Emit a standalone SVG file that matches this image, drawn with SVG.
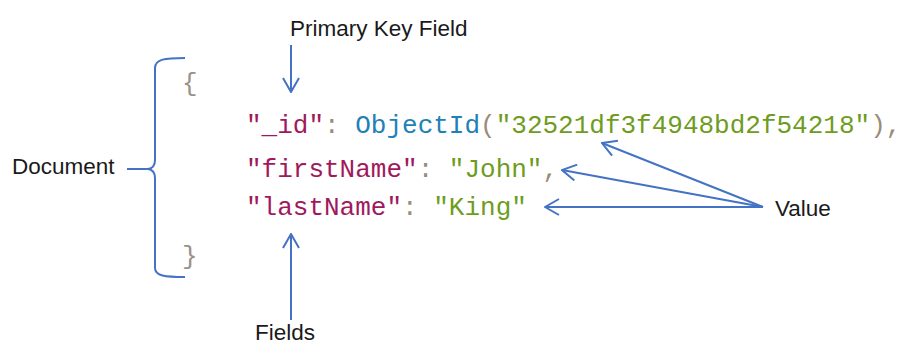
<svg xmlns="http://www.w3.org/2000/svg" width="912" height="347" viewBox="0 0 912 347">
  <defs>
    <style>
      .label { font-family: "Liberation Sans", Arial, sans-serif; font-size: 22.5px; fill: #1a1a1a; }
      .code { font-family: "Liberation Mono", "DejaVu Sans Mono", monospace; font-size: 26px; }
      .key { fill: #a0195c; }
      .punc { fill: #9a8a78; }
      .fn { fill: #2180b8; }
      .str { fill: #6e9c1e; }
      .brace { fill: #9a9088; }
      .conn { stroke: #4472c4; stroke-width: 2; fill: none; }
    </style>
    <marker id="arrow" viewBox="0 0 16 18" refX="15" refY="9" markerWidth="16" markerHeight="18" markerUnits="userSpaceOnUse" orient="auto">
      <path d="M1,1 L15,9 L1,17" fill="none" stroke="#4472c4" stroke-width="2"/>
    </marker>
  </defs>
  <rect width="912" height="347" fill="#ffffff"/>

  <g id="code">
    <text class="code brace" x="182" y="91">{</text>
    <text class="code" x="246" y="133" xml:space="preserve"><tspan class="key">"_id"</tspan><tspan class="punc">: </tspan><tspan class="fn">ObjectId</tspan><tspan class="punc">(</tspan><tspan class="str">"32521df3f4948bd2f54218"</tspan><tspan class="punc">),</tspan></text>
    <text class="code" x="246" y="177" xml:space="preserve"><tspan class="key">"firstName"</tspan><tspan class="punc">: </tspan><tspan class="str">"John"</tspan><tspan class="punc">,</tspan></text>
    <text class="code" x="246" y="215" xml:space="preserve"><tspan class="key">"lastName"</tspan><tspan class="punc">: </tspan><tspan class="str">"King"</tspan></text>
    <text class="code brace" x="182" y="264">}</text>
  </g>

  <g id="bracket">
    <path class="conn" d="M185,58 C165,58 155,59 155,68 L155,160 Q155,168 148,169 Q155,170 155,178 L155,268 C155,276 165,277 185,277"/>
  </g>

  <g id="label-primary-key">
    <text class="label" x="290" y="36">Primary Key Field</text>
  </g>
  <g id="label-document">
    <text class="label" x="12" y="174">Document</text>
  </g>
  <g id="label-value">
    <text class="label" x="775" y="216">Value</text>
  </g>
  <g id="label-fields">
    <text class="label" x="255" y="340">Fields</text>
  </g>

  <g id="connectors">
    <line class="conn" x1="127" y1="169" x2="148" y2="169"/>
    <line class="conn" x1="291" y1="45" x2="291" y2="92" marker-end="url(#arrow)"/>
    <line class="conn" x1="291" y1="320" x2="291" y2="234" marker-end="url(#arrow)"/>
    <line class="conn" x1="763" y1="207" x2="602" y2="143" marker-end="url(#arrow)"/>
    <line class="conn" x1="763" y1="207" x2="562" y2="170" marker-end="url(#arrow)"/>
    <line class="conn" x1="763" y1="207" x2="545" y2="207" marker-end="url(#arrow)"/>
  </g>
</svg>
